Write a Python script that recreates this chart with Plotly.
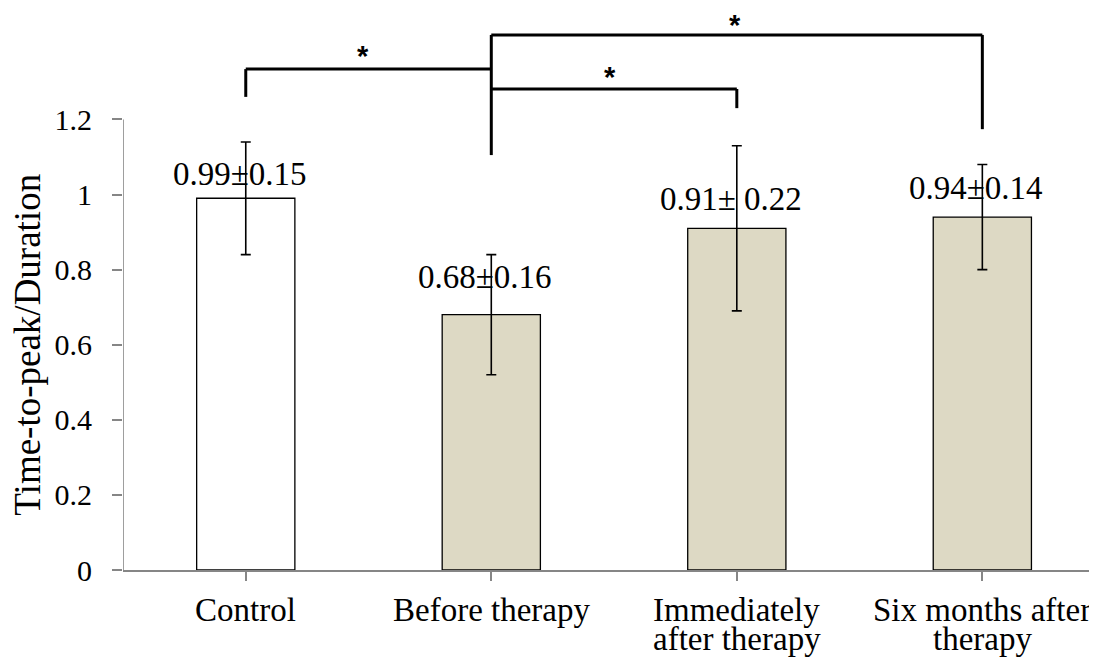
import plotly.graph_objects as go

categories = ["Control", "Before therapy", "Immediately after therapy", "Six months after therapy"]
label_lines = [["Control"], ["Before therapy"], ["Immediately", "after therapy"], ["Six months after", "therapy"]]
means = [0.99, 0.68, 0.91, 0.94]
sds = [0.15, 0.16, 0.22, 0.14]
value_labels = ["0.99±0.15", "0.68±0.16", "0.91± 0.22", "0.94±0.14"]
bar_colors = ["#FFFFFF", "#DDD9C4", "#DDD9C4", "#DDD9C4"]
y_ticks = [0, 0.2, 0.4, 0.6, 0.8, 1.0, 1.2]
y_tick_text = ["0", "0.2", "0.4", "0.6", "0.8", "1", "1.2"]

# significance brackets: (from index, to index, bar height, left leg bottom, right leg bottom)
brackets = [
    (0, 1, 1.334, 1.26, None),
    (1, 2, 1.281, None, 1.23),
    (1, 3, 1.425, None, 1.174),
]
# shared vertical at "Before therapy"
stem = (1, 1.105, 1.425)
stars = [(0.478, 1.379), (1.484, 1.324), (1.993, 1.462)]

FONT = "Liberation Serif, Times New Roman, serif"
AXIS_GRAY = "#868686"

x_idx = list(range(len(categories)))

fig = go.Figure()
fig.add_trace(go.Bar(
    x=x_idx, y=means, width=0.4,
    marker=dict(color=bar_colors, line=dict(color="black", width=1.3)),
    error_y=dict(type="data", array=sds, visible=True, color="black", thickness=1.6, width=5),
    showlegend=False, hoverinfo="skip",
))

shapes = []
# y axis line only up to 1.2
shapes.append(dict(type="line", xref="x", yref="y", x0=-0.5, x1=-0.5, y0=0, y1=1.2,
                   line=dict(color=AXIS_GRAY, width=1.6)))
blk = dict(color="black", width=3)
for a, b, h, l0, l1 in brackets:
    shapes.append(dict(type="line", xref="x", yref="y", x0=a, x1=b, y0=h, y1=h, line=blk))
    if l0 is not None:
        shapes.append(dict(type="line", xref="x", yref="y", x0=a, x1=a, y0=l0, y1=h, line=blk))
    if l1 is not None:
        shapes.append(dict(type="line", xref="x", yref="y", x0=b, x1=b, y0=l1, y1=h, line=blk))
shapes.append(dict(type="line", xref="x", yref="y", x0=stem[0], x1=stem[0], y0=stem[1], y1=stem[2], line=blk))

annotations = []
label_shift = [4, 18, 9, 9]
for i, (m, s, t) in enumerate(zip(means, sds, value_labels)):
    annotations.append(dict(x=i, y=m, xref="x", yref="y", text=t, showarrow=False,
                            yanchor="bottom", xanchor="center", xshift=-6, yshift=label_shift[i],
                            font=dict(family=FONT, size=33, color="black")))
for sx, sy in stars:
    annotations.append(dict(x=sx, y=sy, xref="x", yref="y", text="<b>*</b>", showarrow=False,
                            yanchor="middle", xanchor="center", yshift=-4,
                            font=dict(family="Liberation Sans, Arial, sans-serif", size=29, color="black")))
for i, lines in enumerate(label_lines):
    for j, ln in enumerate(lines):
        annotations.append(dict(x=i, y=0, xref="x", yref="paper", text=ln, showarrow=False,
                                yanchor="top", xanchor="center", yshift=-20 - 29 * j,
                                font=dict(family=FONT, size=33, color="black")))
annotations.append(dict(x=0, y=0.6, xref="paper", yref="y", text="Time-to-peak/Duration",
                        showarrow=False, textangle=-90, xanchor="center", yanchor="middle",
                        xshift=-95, font=dict(family=FONT, size=37, color="black")))

fig.update_layout(
    width=1089, height=658,
    margin=dict(l=115, r=0, t=0, b=96),
    plot_bgcolor="white", paper_bgcolor="white",
    shapes=shapes, annotations=annotations,
    xaxis=dict(range=[-0.5, 3.467], tickvals=x_idx, ticktext=[""] * 4, showticklabels=False,
               tickson="boundaries", ticks="outside", ticklen=9, tickwidth=1.6, tickcolor=AXIS_GRAY,
               showline=True, linecolor=AXIS_GRAY, linewidth=1.6, showgrid=False, zeroline=False,
               fixedrange=True),
    yaxis=dict(range=[0, 1.4967], tickvals=y_ticks, ticktext=y_tick_text, ticks="outside",
               ticklen=10, tickwidth=1.6, tickcolor=AXIS_GRAY, showline=False, showgrid=False,
               zeroline=False, ticklabelstandoff=14,
               tickfont=dict(family=FONT, size=30, color="black"), fixedrange=True),
    bargap=0.6,
)

fig.write_html("out.html")
